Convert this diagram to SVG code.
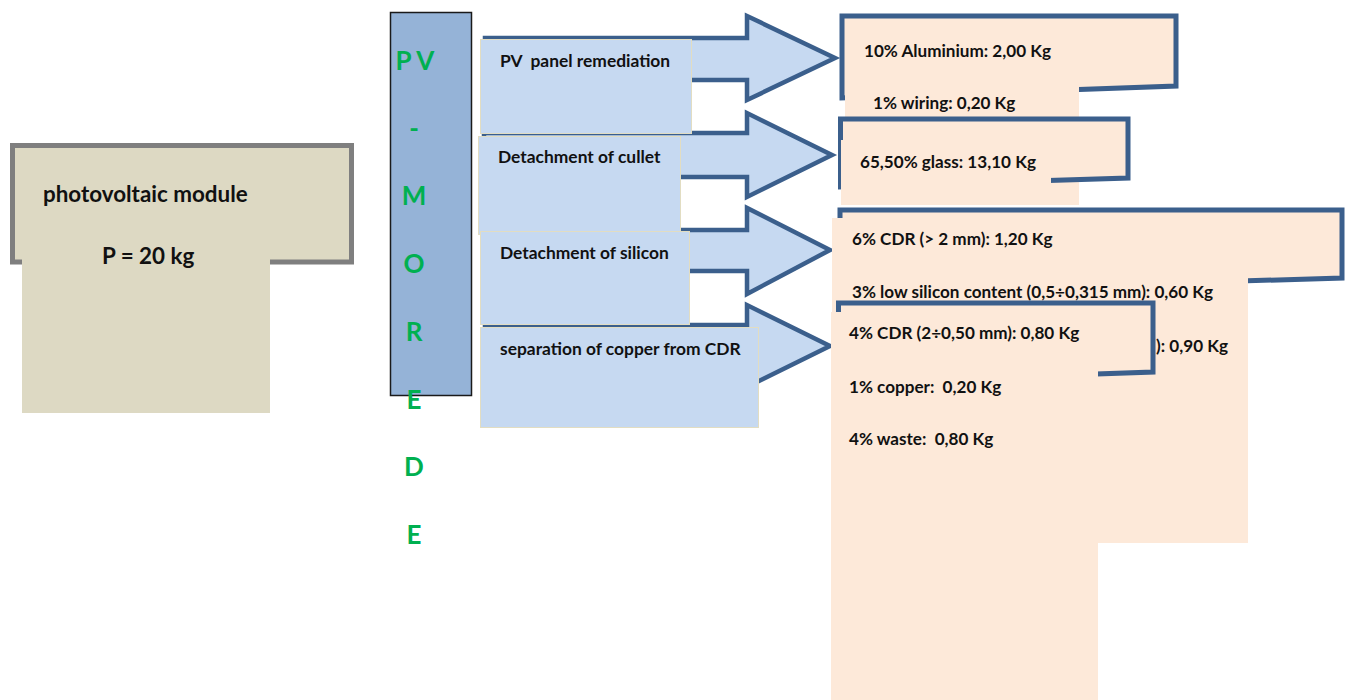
<svg xmlns="http://www.w3.org/2000/svg" width="1348" height="700" viewBox="0 0 1348 700">
<style>
text{font-family:Lato,"Liberation Sans",sans-serif;font-weight:bold;fill:#111;white-space:pre}
.lbl{font-size:17.4px}
.out{font-size:17.1px}
.big{font-size:22.4px}
.grn{font-size:26px;fill:#00b050;text-anchor:middle}
.arrow{fill:#c6d9f1;stroke:#3b5f8c;stroke-width:4.5;stroke-linejoin:miter}
.step{fill:#c6d9f1;stroke:#e2ddc2;stroke-width:1}
.outl{fill:#fde9d9;stroke:#3b5f8c;stroke-width:5}
.peach{fill:#fde9d9}
.mod{fill:#ddd9c3}
</style>
<rect width="1348" height="700" fill="#fff"/>
<g id="module">
<rect x="12.5" y="145.5" width="339" height="116.5" class="mod" stroke="#7f7f7f" stroke-width="5"/>
<rect x="22" y="149" width="248" height="264" class="mod"/>
<text x="43" y="202" class="big">photovoltaic module</text>
<text x="102" y="264" class="big">P = 20 kg</text>
</g>
<g id="pv-morede">
<rect x="390.5" y="12.5" width="81" height="383" fill="#95b3d7" stroke="#1a1a1a" stroke-width="1.5"/>
<text x="415" y="70" class="grn">P V</text>
<text x="414" y="138" class="grn">-</text>
<text x="414" y="205" class="grn">M</text>
<text x="414" y="273" class="grn">O</text>
<text x="414" y="341" class="grn">R</text>
<text x="414" y="409" class="grn">E</text>
<text x="414" y="476" class="grn">D</text>
<text x="414" y="544" class="grn">E</text>
</g>
<g id="connectors">
<polygon class="arrow" points="485,38 747,38 747,16 835,58 747,100 747,80 485,80"/>
<polygon class="arrow" points="484,133 747,133 747,113 832,155 747,197 747,177 484,177"/>
<polygon class="arrow" points="485,230 747,230 747,208 830,250 747,294 747,271 485,271"/>
<polygon class="arrow" points="485,325 747,325 747,305 830,346 747,387 747,367 485,367"/>
</g>
<g id="step1">
<rect x="480.5" y="39.5" width="211" height="94" class="step"/>
<text x="500" y="67" class="lbl">PV  panel remediation</text>
</g>
<g id="step2">
<rect x="478.5" y="136.5" width="202" height="98" class="step"/>
<text x="498" y="163" class="lbl">Detachment of cullet</text>
</g>
<g id="step3">
<rect x="480.5" y="231.5" width="209" height="93" class="step"/>
<text x="500" y="259" class="lbl">Detachment of silicon</text>
</g>
<g id="step4">
<rect x="480.5" y="327.5" width="278" height="100" class="step"/>
<text x="500" y="355" class="lbl">separation of copper from CDR</text>
</g>
<g id="out1">
<polygon class="outl" points="842,16 1176,16 1176,86 842,98"/>
<rect x="845" y="19" width="234" height="186" class="peach"/>
<text x="864" y="57" class="out">10% Aluminium: 2,00 Kg</text>
<text x="873" y="109" class="out">1% wiring: 0,20 Kg</text>
</g>
<g id="out2">
<polygon class="outl" points="840.5,119 1128,119 1128,178 840.5,187"/>
<rect x="841" y="140" width="210" height="65" class="peach"/>
<text x="860" y="168" class="out">65,50% glass: 13,10 Kg</text>
</g>
<g id="out3">
<polygon class="outl" points="840,210 1342,210 1342,278 840,293"/>
<rect x="832" y="218" width="416" height="325" class="peach"/>
<text x="852" y="245" class="out">6% CDR (&gt; 2 mm): 1,20 Kg</text>
<text x="852" y="298" class="out">3% low silicon content (0,5÷0,315 mm): 0,60 Kg</text>
<text x="1228" y="352" class="out" text-anchor="end">): 0,90 Kg</text>
</g>
<g id="out4">
<polygon class="outl" points="838.5,303 1153,303 1153,372 838.5,383"/>
<rect x="831" y="312" width="267" height="388" class="peach"/>
<text x="849" y="339" class="out">4% CDR (2÷0,50 mm): 0,80 Kg</text>
<text x="849" y="393" class="out">1% copper:  0,20 Kg</text>
<text x="849" y="445" class="out">4% waste:  0,80 Kg</text>
</g>
</svg>
